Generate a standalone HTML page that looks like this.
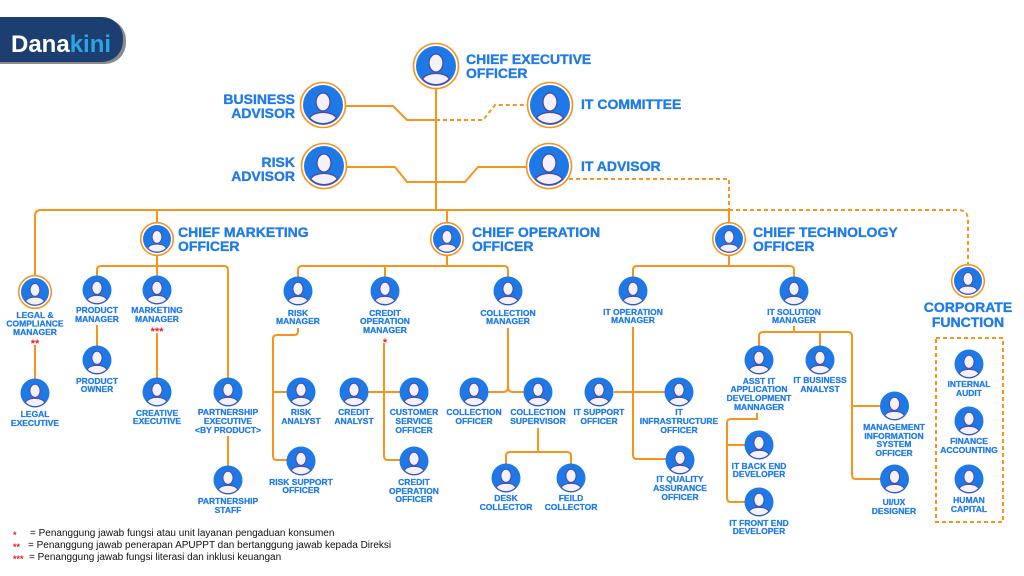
<!DOCTYPE html>
<html><head><meta charset="utf-8"><style>
html,body{margin:0;padding:0;background:#fff;}
svg{display:block;}
.l{font-family:"Liberation Sans",Arial,sans-serif;font-weight:bold;font-size:8.5px;fill:#1f7be8;stroke:#1f7be8;stroke-width:0.25;text-anchor:middle;}
.b{font-family:"Liberation Sans",Arial,sans-serif;font-weight:bold;font-size:14px;fill:#1f7be8;stroke:#1f7be8;stroke-width:0.35;}
.g{font-family:"Liberation Sans",Arial,sans-serif;font-size:10px;fill:#111;}
.s{font-family:"Liberation Sans",Arial,sans-serif;font-size:11px;fill:#e8202a;font-weight:bold;}
.ss{font-family:"Liberation Sans",Arial,sans-serif;font-size:9px;fill:#e8202a;font-weight:bold;}
.ln{fill:none;stroke:#f7941d;stroke-width:2;stroke-linejoin:round;}
.dl{fill:none;stroke:#f7941d;stroke-width:2;stroke-dasharray:4 3;}
.rg{fill:#fff;stroke:#f7941d;stroke-width:1.6;}
</style></head><body>
<svg width="1024" height="576" viewBox="0 0 1024 576" xmlns="http://www.w3.org/2000/svg">
<defs>
<symbol id="p" viewBox="-20 -20 40 40">
<circle r="20" fill="#1e78e6"/>
<ellipse cx="0" cy="-3" rx="7" ry="9" fill="#f3f1fb" stroke="#4a4aa0" stroke-width="1.3"/>
<path d="M-13.5,13 C-9,5.5 9,5.5 13.5,13 A18.8,18.8 0 0 1 -13.5,13 Z" fill="#f3f1fb" stroke="#4a4aa0" stroke-width="1.3"/>
</symbol>
</defs>

<!-- logo -->
<rect x="-30" y="19" width="156" height="45" rx="21" fill="#8c8c8c"/>
<rect x="-30" y="17" width="153" height="45" rx="21" fill="#1d3e70"/>
<text x="11" y="52" font-family="Liberation Sans,Arial,sans-serif" font-weight="bold" font-size="24" fill="#fff">Dana<tspan fill="#2aa6e2">kini</tspan></text>

<!-- connectors top -->
<path class="ln" d="M436,88 V210"/>
<path class="ln" d="M35,276 V216 Q35,210 41,210 H729"/>
<path class="ln" d="M157,210 V223"/>
<path class="ln" d="M447,210 V223"/>
<path class="ln" d="M729,210 V223"/>
<path class="ln" d="M346,106 H393 L407,120 H436"/>
<path class="dl" d="M436,120 H483 L495,105 H527"/>
<path class="ln" d="M347,167 H395 L407,182 H465 L478,167 H527"/>
<path class="dl" d="M569,179 H729 V210"/>
<path class="dl" d="M729,210 H958 Q968,210 968,220 V265"/>

<!-- CMO -->
<path class="ln" d="M157,255 V276"/>
<path class="ln" d="M97,276 V270 Q97,266 101,266 H224 Q228,266 228,270 V378"/>
<path class="ln" d="M35,345 V379"/>
<path class="ln" d="M97,325 V346"/>
<path class="ln" d="M157,333 V378"/>
<path class="ln" d="M228,436 V466"/>

<!-- COO -->
<path class="ln" d="M447,255 V266"/>
<path class="ln" d="M298,277 V270 Q298,266 302,266 H504 Q508,266 508,270 V277"/>
<path class="ln" d="M385,266 V277"/>
<path class="ln" d="M298,328 V331 Q298,335 294,335 H277 Q273,335 273,339 V456 Q273,460 277,460 H287"/>
<path class="ln" d="M273,392 H287"/>
<path class="ln" d="M384,343 V456 Q384,460 388,460 H400"/>
<path class="ln" d="M368,392 H400"/>
<path class="ln" d="M508,328 V387 Q508,392 503,392 H488"/>
<path class="ln" d="M508,387 Q508,392 513,392 H524"/>
<path class="ln" d="M538,428 V452"/>
<path class="ln" d="M506,464 V456 Q506,452 510,452 H567 Q571,452 571,456 V464"/>

<!-- CTO -->
<path class="ln" d="M729,255 V266"/>
<path class="ln" d="M633,277 V270 Q633,266 637,266 H790 Q794,266 794,270 V277"/>
<path class="ln" d="M633,327 V455 Q633,459 637,459 H666"/>
<path class="ln" d="M614,392 H665"/>
<path class="ln" d="M794,326 V332"/>
<path class="ln" d="M759,346 V336 Q759,332 763,332 H848 Q852,332 852,336 V475 Q852,479 856,479 H880"/>
<path class="ln" d="M820,332 V346"/>
<path class="ln" d="M852,406 H880"/>
<path class="ln" d="M757,413 V419 H731 Q727,419 727,423 V498 Q727,502 731,502 H745"/>
<path class="ln" d="M727,445 H745"/>

<!-- corporate box -->
<rect x="936" y="338" width="67" height="184" class="dl"/>

<!-- big ringed nodes -->
<circle cx="436" cy="66" r="22.5" class="rg"/><use href="#p" x="416" y="46" width="40" height="40"/>
<circle cx="323" cy="105" r="22.5" class="rg"/><use href="#p" x="303" y="85" width="40" height="40"/>
<circle cx="324" cy="166" r="22.5" class="rg"/><use href="#p" x="304" y="146" width="40" height="40"/>
<circle cx="550" cy="105" r="22.5" class="rg"/><use href="#p" x="530" y="85" width="40" height="40"/>
<circle cx="549" cy="166" r="22.5" class="rg"/><use href="#p" x="529" y="146" width="40" height="40"/>

<!-- medium ringed -->
<circle cx="35" cy="292" r="16.3" class="rg"/><use href="#p" x="21" y="278" width="28" height="28"/>
<circle cx="157" cy="239" r="16.3" class="rg"/><use href="#p" x="143" y="225" width="28" height="28"/>
<circle cx="447" cy="239" r="16.3" class="rg"/><use href="#p" x="433" y="225" width="28" height="28"/>
<circle cx="729" cy="239" r="16.3" class="rg"/><use href="#p" x="715" y="225" width="28" height="28"/>
<circle cx="968" cy="281" r="16.3" class="rg"/><use href="#p" x="954" y="267" width="28" height="28"/>

<!-- small nodes r=14.5 -->
<use href="#p" x="82.5" y="275.5" width="29" height="29"/>
<use href="#p" x="142.5" y="275.5" width="29" height="29"/>
<use href="#p" x="20.5" y="378.5" width="29" height="29"/>
<use href="#p" x="82.5" y="345.5" width="29" height="29"/>
<use href="#p" x="142.5" y="377.5" width="29" height="29"/>
<use href="#p" x="213.5" y="377.5" width="29" height="29"/>
<use href="#p" x="213.5" y="465.5" width="29" height="29"/>
<use href="#p" x="283.5" y="276.5" width="29" height="29"/>
<use href="#p" x="370.5" y="276.5" width="29" height="29"/>
<use href="#p" x="493.5" y="276.5" width="29" height="29"/>
<use href="#p" x="286.5" y="377.5" width="29" height="29"/>
<use href="#p" x="286.5" y="446.5" width="29" height="29"/>
<use href="#p" x="339.5" y="377.5" width="29" height="29"/>
<use href="#p" x="399.5" y="377.5" width="29" height="29"/>
<use href="#p" x="399.5" y="446.5" width="29" height="29"/>
<use href="#p" x="459.5" y="377.5" width="29" height="29"/>
<use href="#p" x="523.5" y="377.5" width="29" height="29"/>
<use href="#p" x="491.5" y="463.5" width="29" height="29"/>
<use href="#p" x="556.5" y="463.5" width="29" height="29"/>
<use href="#p" x="618.5" y="276.5" width="29" height="29"/>
<use href="#p" x="779.5" y="276.5" width="29" height="29"/>
<use href="#p" x="584.5" y="377.5" width="29" height="29"/>
<use href="#p" x="664.5" y="377.5" width="29" height="29"/>
<use href="#p" x="665.5" y="445.5" width="29" height="29"/>
<use href="#p" x="744.5" y="345.5" width="29" height="29"/>
<use href="#p" x="805.5" y="345.5" width="29" height="29"/>
<use href="#p" x="744.5" y="430.5" width="29" height="29"/>
<use href="#p" x="744.5" y="487.5" width="29" height="29"/>
<use href="#p" x="880" y="391.5" width="29" height="29"/>
<use href="#p" x="880" y="464.5" width="29" height="29"/>
<use href="#p" x="954.5" y="349.5" width="29" height="29"/>
<use href="#p" x="954.5" y="406.5" width="29" height="29"/>
<use href="#p" x="954.5" y="464.5" width="29" height="29"/>

<!-- big labels -->
<text class="b" x="466" y="64">CHIEF EXECUTIVE</text>
<text class="b" x="466" y="78">OFFICER</text>
<text class="b" x="295" y="104" text-anchor="end">BUSINESS</text>
<text class="b" x="295" y="118" text-anchor="end">ADVISOR</text>
<text class="b" x="295" y="167" text-anchor="end">RISK</text>
<text class="b" x="295" y="181" text-anchor="end">ADVISOR</text>
<text class="b" x="581" y="109">IT COMMITTEE</text>
<text class="b" x="581" y="171">IT ADVISOR</text>
<text class="b" x="178" y="237">CHIEF MARKETING</text>
<text class="b" x="178" y="251">OFFICER</text>
<text class="b" x="472" y="237">CHIEF OPERATION</text>
<text class="b" x="472" y="251">OFFICER</text>
<text class="b" x="753" y="237">CHIEF TECHNOLOGY</text>
<text class="b" x="753" y="251">OFFICER</text>
<text class="b" x="968" y="312" text-anchor="middle">CORPORATE</text>
<text class="b" x="968" y="327" text-anchor="middle">FUNCTION</text>

<!-- small labels -->
<text class="l"><tspan x="35" y="318">LEGAL &amp;</tspan><tspan x="35" y="326.5">COMPLIANCE</tspan><tspan x="35" y="335">MANAGER</tspan></text>
<text class="s" x="35" y="347" text-anchor="middle">**</text>
<text class="l"><tspan x="35" y="417">LEGAL</tspan><tspan x="35" y="426">EXECUTIVE</tspan></text>
<text class="l"><tspan x="97" y="313">PRODUCT</tspan><tspan x="97" y="322">MANAGER</tspan></text>
<text class="l"><tspan x="157" y="313">MARKETING</tspan><tspan x="157" y="322">MANAGER</tspan></text>
<text class="s" x="157" y="335" text-anchor="middle">***</text>
<text class="l"><tspan x="97" y="384">PRODUCT</tspan><tspan x="97" y="392">OWNER</tspan></text>
<text class="l"><tspan x="157" y="416">CREATIVE</tspan><tspan x="157" y="424">EXECUTIVE</tspan></text>
<text class="l"><tspan x="228" y="415">PARTNERSHIP</tspan><tspan x="228" y="424">EXECUTIVE</tspan><tspan x="228" y="433">&lt;BY PRODUCT&gt;</tspan></text>
<text class="l"><tspan x="228" y="504">PARTNERSHIP</tspan><tspan x="228" y="513">STAFF</tspan></text>
<text class="l"><tspan x="298" y="316">RISK</tspan><tspan x="298" y="324">MANAGER</tspan></text>
<text class="l"><tspan x="385" y="316">CREDIT</tspan><tspan x="385" y="324">OPERATION</tspan><tspan x="385" y="333">MANAGER</tspan></text>
<text class="s" x="385" y="346" text-anchor="middle">*</text>
<text class="l"><tspan x="508" y="316">COLLECTION</tspan><tspan x="508" y="324">MANAGER</tspan></text>
<text class="l"><tspan x="301" y="415">RISK</tspan><tspan x="301" y="424">ANALYST</tspan></text>
<text class="l"><tspan x="301" y="485">RISK SUPPORT</tspan><tspan x="301" y="493">OFFICER</tspan></text>
<text class="l"><tspan x="354" y="415">CREDIT</tspan><tspan x="354" y="424">ANALYST</tspan></text>
<text class="l"><tspan x="414" y="415">CUSTOMER</tspan><tspan x="414" y="424">SERVICE</tspan><tspan x="414" y="433">OFFICER</tspan></text>
<text class="l"><tspan x="414" y="485">CREDIT</tspan><tspan x="414" y="494">OPERATION</tspan><tspan x="414" y="502">OFFICER</tspan></text>
<text class="l"><tspan x="474" y="415">COLLECTION</tspan><tspan x="474" y="424">OFFICER</tspan></text>
<text class="l"><tspan x="538" y="415">COLLECTION</tspan><tspan x="538" y="424">SUPERVISOR</tspan></text>
<text class="l"><tspan x="506" y="501">DESK</tspan><tspan x="506" y="510">COLLECTOR</tspan></text>
<text class="l"><tspan x="571" y="501">FEILD</tspan><tspan x="571" y="510">COLLECTOR</tspan></text>
<text class="l"><tspan x="633" y="315">IT OPERATION</tspan><tspan x="633" y="323">MANAGER</tspan></text>
<text class="l"><tspan x="794" y="315">IT SOLUTION</tspan><tspan x="794" y="323">MANAGER</tspan></text>
<text class="l"><tspan x="599" y="415">IT SUPPORT</tspan><tspan x="599" y="424">OFFICER</tspan></text>
<text class="l"><tspan x="679" y="415">IT</tspan><tspan x="679" y="424">INFRASTRUCTURE</tspan><tspan x="679" y="433">OFFICER</tspan></text>
<text class="l"><tspan x="680" y="482">IT QUALITY</tspan><tspan x="680" y="491">ASSURANCE</tspan><tspan x="680" y="500">OFFICER</tspan></text>
<text class="l"><tspan x="759" y="384">ASST IT</tspan><tspan x="759" y="392">APPLICATION</tspan><tspan x="759" y="401">DEVELOPMENT</tspan><tspan x="759" y="410">MANNAGER</tspan></text>
<text class="l"><tspan x="820" y="383">IT BUSINESS</tspan><tspan x="820" y="392">ANALYST</tspan></text>
<text class="l"><tspan x="759" y="469">IT BACK END</tspan><tspan x="759" y="477">DEVELOPER</tspan></text>
<text class="l"><tspan x="759" y="526">IT FRONT END</tspan><tspan x="759" y="534">DEVELOPER</tspan></text>
<text class="l"><tspan x="894" y="430">MANAGEMENT</tspan><tspan x="894" y="439">INFORMATION</tspan><tspan x="894" y="447">SYSTEM</tspan><tspan x="894" y="456">OFFICER</tspan></text>
<text class="l"><tspan x="894" y="505">UI/UX</tspan><tspan x="894" y="514">DESIGNER</tspan></text>
<text class="l"><tspan x="969" y="387">INTERNAL</tspan><tspan x="969" y="396">AUDIT</tspan></text>
<text class="l"><tspan x="969" y="444">FINANCE</tspan><tspan x="969" y="453">ACCOUNTING</tspan></text>
<text class="l"><tspan x="969" y="503">HUMAN</tspan><tspan x="969" y="512">CAPITAL</tspan></text>

<!-- legend -->
<text class="ss" x="13" y="538">*</text>
<text class="g" x="30" y="536">=   Penanggung jawab fungsi atau unit layanan pengaduan konsumen</text>
<text class="ss" x="13" y="550">**</text>
<text class="g" x="28" y="548">=  Penanggung jawab penerapan APUPPT dan bertanggung jawab kepada Direksi</text>
<text class="ss" x="13" y="562">***</text>
<text class="g" x="29" y="560">= Penanggung jawab fungsi literasi dan inklusi keuangan</text>
</svg>
</body></html>
